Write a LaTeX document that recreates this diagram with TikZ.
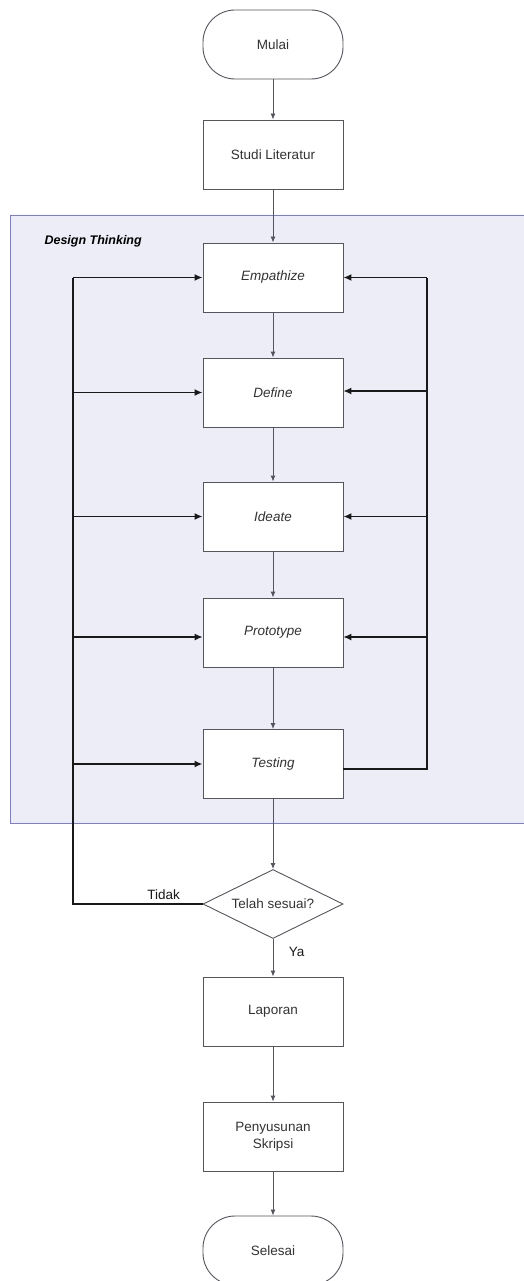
\documentclass[tikz,border=0pt]{standalone}
\usepackage{fontspec}
\setmainfont{Liberation Sans}
\usetikzlibrary{shapes.geometric,arrows.meta}
\definecolor{bgfill}{HTML}{EDEDF8}
\definecolor{bgline}{HTML}{7A7AF0}
\definecolor{boxline}{HTML}{55555F}
\definecolor{txt}{HTML}{333333}
\tikzset{
  box/.style={draw=boxline, line width=0.9pt, fill=white, minimum width=140pt, minimum height=69pt, inner sep=2pt, font=\fontsize{13.5}{16.5}\selectfont, text=txt, align=center},
  dtbox/.style={box, font=\fontsize{13.5}{16.5}\selectfont\itshape},
  term/.style={box, rounded corners=32pt},
  decision/.style={draw=boxline, line width=0.9pt, fill=white, diamond, aspect=2, minimum width=140pt, minimum height=69pt, inner sep=0pt, font=\fontsize{13.5}{16.5}\selectfont, text=txt},
  flow/.style={draw=boxline, line width=0.9pt, -{Latex[length=6pt,width=5pt]}},
  fb/.style={draw=black!90, line width=1.6pt, -{Latex[length=8pt,width=7pt]}},
  fbthin/.style={draw=black!90, line width=1.1pt, -{Latex[length=8pt,width=7pt]}},
  lbl/.style={font=\fontsize{13.5}{16.5}\selectfont, text=black!90}
}
\begin{document}
\begin{tikzpicture}[x=1pt,y=-1pt]
\useasboundingbox (0,0) rectangle (523,1281);
\fill[white] (0,0) rectangle (523,1281);
\draw[bgline, fill=bgfill, line width=1pt] (10,216) rectangle (530,823);
\node[anchor=west, font=\fontsize{12.5}{14}\selectfont\bfseries\itshape] (dt) at (41,241) {Design Thinking};

\node[term] (mulai) at (273,44.5) {Mulai};
\node[box] (studi) at (273,154.5) {Studi Literatur};
\node[dtbox] (emp) at (273,277.5) {Empathize};
\node[dtbox] (def) at (273,392.5) {Define};
\node[dtbox] (ide) at (273,516.5) {Ideate};
\node[dtbox] (pro) at (273,632.5) {Prototype};
\node[dtbox] (tes) at (273,764) {Testing};
\node[decision] (dec) at (273,904) {Telah sesuai?};
\node[box] (lap) at (273,1011.5) {Laporan};
\node[box] (sky) at (273,1136.5) {Penyusunan\\Skripsi};
\node[term] (sel) at (273,1250.5) {Selesai};

\draw[flow] (mulai) -- (studi);
\draw[flow] (studi) -- (emp);
\draw[flow] (emp) -- (def);
\draw[flow] (def) -- (ide);
\draw[flow] (ide) -- (pro);
\draw[flow] (pro) -- (tes);
\draw[flow] (tes) -- (dec);
\draw[flow] (dec) -- node[lbl, right, pos=0.35, xshift=12pt] {Ya} (lap);
\draw[flow] (lap) -- (sky);
\draw[flow] (sky) -- (sel);

% left feedback (Tidak)
\coordinate (lb) at (73,904);
\coordinate (lt) at (73,277.5);
\draw[draw=black!90, line width=1.6pt] (dec.west) -- node[lbl, above, pos=0.3] {Tidak} (lb) -- (lt);
\draw[fb] (lt) -- (emp.west);
\draw[fb] (73,392.5) coordinate (l2) -- (def.west);
\draw[fb] (73,516.5) coordinate (l3) -- (ide.west);
\draw[fbthin] (73,637) coordinate (l4) -- (pro.west |- l4);
\draw[fb] (73,764) coordinate (l5) -- (tes.west);

% right feedback
\coordinate (rb) at (427,769);
\coordinate (rt) at (427,277.5);
\draw[draw=black!90, line width=1.4pt] (tes.east |- rb) -- (rb) -- (rt);
\draw[fb] (rt) -- (emp.east);
\draw[fbthin] (427,391) coordinate (r2) -- (def.east |- r2);
\draw[fb] (427,516.5) coordinate (r3) -- (ide.east);
\draw[fbthin] (427,637) coordinate (r4) -- (pro.east |- r4);
\end{tikzpicture}
\end{document}
